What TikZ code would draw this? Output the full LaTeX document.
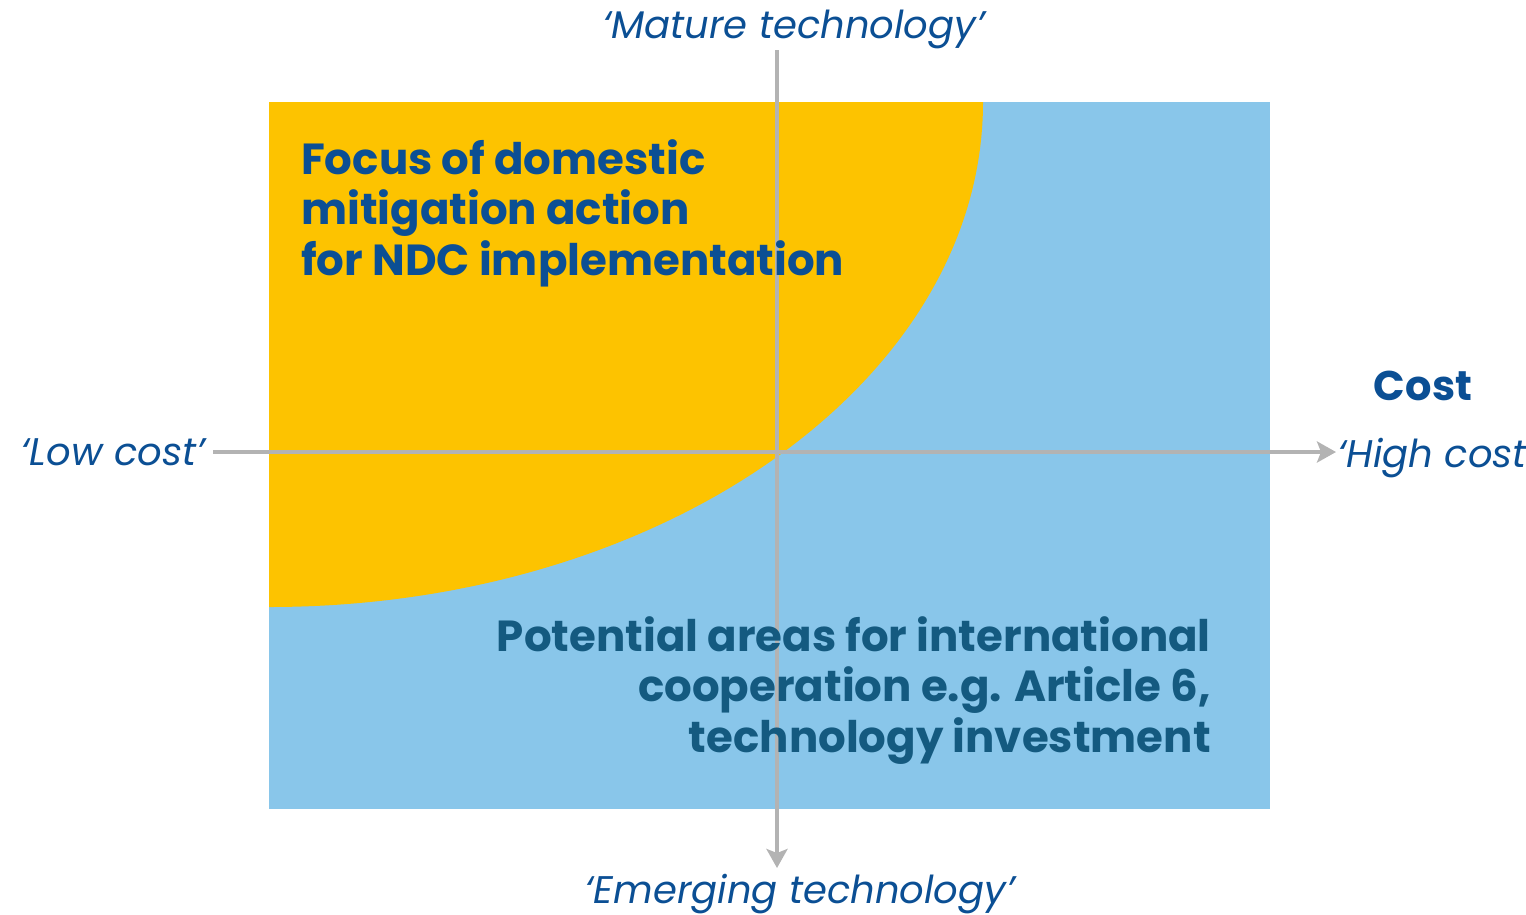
\documentclass[tikz,border=0pt]{standalone}
\usepackage{fontspec}
\setmainfont{Poppins}
\usetikzlibrary{arrows.meta}
\definecolor{ylw}{HTML}{FDC300}
\definecolor{lblue}{HTML}{89C6EA}
\definecolor{txtblue}{HTML}{0B4F94}
\definecolor{txtdark}{HTML}{145A80}
\definecolor{axgray}{HTML}{B3B3B3}
\tikzset{
  axisline/.style={draw=axgray, line width=4pt, -{Stealth[length=19pt,width=21pt,inset=4pt]}},
  boldtxt/.style={font=\fontsize{43.5}{50.5}\selectfont\bfseries, text=txtblue, inner sep=0pt},
  itxt/.style={font=\fontsize{38.5}{42}\selectfont\itshape, text=txtblue, inner sep=0pt},
}
\begin{document}
\begin{tikzpicture}[x=1pt,y=-1pt]
\useasboundingbox (0,0) rectangle (1526,914);
% panels
\fill[lblue] (269,102) rectangle (1270,809);
\fill[ylw] (269,102) -- (983,102) arc[start angle=0,end angle=90,x radius=714,y radius=505] -- cycle;
% axes
\coordinate (vtop) at (777,50);
\coordinate (vbot) at (777,868);
\coordinate (hleft) at (213,452);
\coordinate (hright) at (1336,452);
\draw[axisline] (vtop) -- (vbot);
\draw[axisline] (hleft) -- (hright);
% texts
\node[boldtxt, anchor=base west, align=left] (focus) at (301,275)
  {Focus of domestic\\mitigation action\\for NDC implementation};
\node[boldtxt, text=txtdark, anchor=base east, align=right] (potential) at (1211,752)
  {Potential areas for international\\cooperation e.g. Article 6,\\technology investment};
\node[boldtxt, font=\fontsize{41.5}{44}\selectfont\bfseries, anchor=base] (cost) at (1423,400) {Cost};
\node[itxt, anchor=base east] (low) at (205,465) {‘Low cost’};
\node[itxt, anchor=base west] (high) at (1338,467) {‘High cost’};
\node[itxt, anchor=base] (mature) at (794,38) {‘Mature technology’};
\node[itxt, anchor=base] (emerging) at (800,903) {‘Emerging technology’};
\end{tikzpicture}
\end{document}
